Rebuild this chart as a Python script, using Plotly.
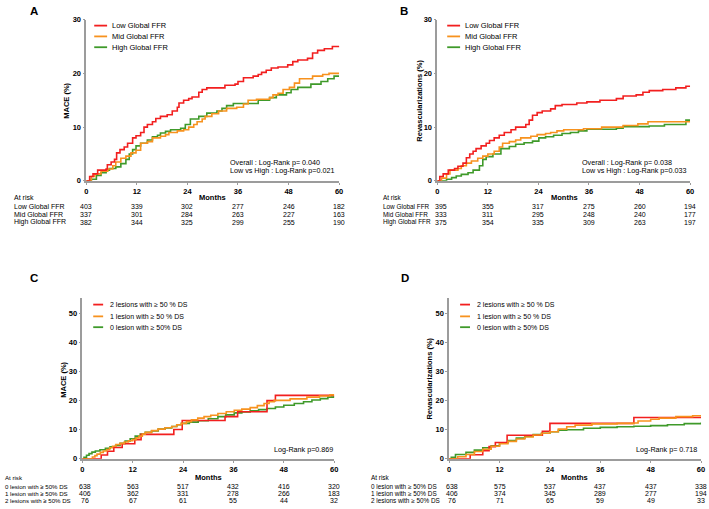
import plotly.graph_objects as go

# ---------------- data ----------------
months_ticks = [0, 12, 24, 36, 48, 60]

# Panel A : MACE by global FFR
A_low_t = [0, 0.8, 1.6, 2.7, 4.7, 5.0, 5.9, 6.7, 7.2, 8.0, 9.0, 9.8, 11.0, 11.8, 12.9, 13.7, 14.5, 15.7, 16.5, 17.6,
           19.2, 20.4, 21.6, 22.0, 23.1, 24.3, 25.1, 26.7, 27.5, 28.6, 32.9, 35.3, 36.0, 37.3, 39.6, 40.8, 41.6, 42.7,
           43.9, 45.5, 47.8, 49.0, 50.2, 52.5, 53.7, 54.9, 56.5, 58.4, 60]
A_low_v = [0, 0.8, 1.3, 2.0, 2.2, 3.0, 3.5, 4.0, 5.2, 5.8, 6.3, 7.0, 8.0, 8.4, 9.0, 10.0, 10.5, 11.0, 11.6, 12.0,
           12.3, 13.0, 13.7, 14.5, 15.0, 15.3, 15.6, 16.5, 17.0, 17.3, 17.8, 18.0, 18.5, 19.2, 19.5, 19.8, 20.2, 20.6,
           21.0, 21.2, 21.6, 22.2, 22.5, 22.8, 23.8, 24.3, 24.6, 25.0, 25.1]
A_mid_t = [0, 1.2, 2.0, 3.5, 5.1, 6.3, 7.0, 8.2, 9.4, 10.6, 11.8, 12.9, 14.5, 15.7, 17.6, 18.8, 19.6, 21.6, 23.1, 24.3,
           25.5, 26.3, 27.5, 28.2, 29.8, 31.4, 33.3, 35.7, 37.3, 38.4, 40.4, 43.5, 44.3, 45.5, 46.7, 48.2, 49.4, 50.6,
           53.7, 56.1, 57.6, 60]
A_mid_v = [0, 0.8, 1.3, 1.8, 2.2, 2.8, 3.5, 4.2, 4.6, 5.2, 5.7, 7.0, 7.3, 8.0, 8.3, 8.6, 9.0, 9.3, 9.5, 10.0,
           10.5, 11.0, 11.5, 12.0, 12.5, 13.0, 13.5, 13.7, 14.3, 15.0, 15.2, 15.5, 16.0, 16.3, 17.0, 17.4, 18.2, 19.0,
           19.5, 19.8, 20.0, 20.0]
A_high_t = [0, 1.2, 2.4, 3.5, 4.7, 5.5, 7.0, 8.2, 9.4, 10.2, 11.0, 11.8, 12.9, 14.5, 15.7, 16.9, 17.6, 18.8, 20.0, 22.4,
            23.5, 24.7, 26.7, 28.6, 31.0, 32.2, 33.3, 34.9, 40.8, 43.5, 45.1, 47.5, 48.6, 50.2, 53.3, 55.7, 57.3, 58.8, 60]
A_high_v = [0, 0.3, 1.0, 1.5, 2.0, 2.3, 2.6, 3.2, 4.0, 5.0, 5.8, 6.5, 7.0, 7.6, 8.2, 8.5, 8.9, 9.2, 9.5, 9.8,
            10.5, 11.5, 12.0, 12.6, 13.0, 13.5, 14.0, 14.4, 15.0, 15.5, 16.0, 16.4, 17.0, 17.4, 18.0, 18.5, 19.0, 19.5, 19.5]

# Panel B : revascularizations by global FFR
B_low_t = [0, 0.6, 1.4, 2.6, 4.1, 4.9, 6.1, 6.9, 7.7, 8.5, 9.2, 10.4, 11.6, 12.4, 13.5, 14.7, 15.9, 17.5, 18.6, 21.0,
           21.8, 22.6, 23.7, 24.9, 26.9, 28.0, 29.6, 33.1, 35.5, 38.6, 42.5, 44.1, 47.2, 48.8, 50.3, 53.5, 56.6, 59.0, 60]
B_low_v = [0, 0.8, 1.3, 2.0, 2.3, 2.7, 3.3, 4.3, 5.0, 5.5, 6.0, 6.5, 7.0, 7.5, 8.0, 8.5, 9.0, 9.5, 10.0, 10.5,
           11.3, 12.2, 12.7, 13.0, 13.4, 14.0, 14.2, 14.5, 14.7, 15.0, 15.3, 15.8, 16.0, 16.5, 16.8, 17.0, 17.3, 17.6, 17.6]
B_mid_t = [0, 1.0, 2.2, 3.0, 4.9, 5.7, 6.9, 8.1, 9.6, 10.8, 12.0, 13.5, 14.7, 15.5, 17.1, 18.6, 19.8, 22.2, 23.7, 25.7,
           26.9, 28.4, 30.0, 34.7, 39.0, 44.1, 47.6, 50.0, 60]
B_mid_v = [0, 0.5, 1.3, 2.0, 2.3, 2.8, 3.3, 3.7, 4.2, 4.6, 5.0, 5.5, 6.3, 7.0, 7.3, 7.6, 8.0, 8.3, 8.6, 8.8,
           9.0, 9.3, 9.5, 9.7, 10.0, 10.3, 10.6, 11.0, 11.0]
B_high_t = [0, 2.2, 3.4, 4.5, 5.7, 7.3, 8.5, 10.0, 10.8, 11.6, 13.2, 15.1, 17.1, 18.6, 20.6, 22.6, 24.1, 25.7, 27.6, 29.6,
            31.6, 33.5, 35.5, 42.5, 44.1, 50.3, 53.9, 59.0, 60]
B_high_v = [0, 0.3, 0.6, 0.9, 1.2, 1.5, 2.0, 2.8, 4.0, 4.5, 5.0, 6.0, 6.4, 6.8, 7.1, 7.4, 8.0, 8.2, 8.5, 8.8,
            9.0, 9.3, 9.6, 9.8, 10.1, 10.2, 10.5, 11.3, 11.3]

# Panel C : MACE by number of lesions with >= 50% DS
C_two_t = [0, 4.5, 6.0, 7.5, 9.5, 12.5, 14.0, 21.8, 23.8, 34.0, 37.0, 44.0, 46.0, 60]
C_two_v = [0, 1.3, 2.6, 3.9, 5.2, 6.6, 8.4, 10.1, 13.2, 14.5, 16.2, 20.0, 21.8, 21.8]
C_one_t = [0, 2.4, 3.0, 3.5, 4.3, 5.0, 5.8, 6.5, 7.2, 8.0, 9.0, 10.0, 11.0, 12.0, 12.8, 13.5, 14.3, 15.0, 16.5, 18.0,
           19.7, 21.3, 22.5, 23.6, 24.8, 26.0, 27.5, 29.0, 30.6, 32.3, 34.3, 36.2, 38.0, 40.0, 41.7, 43.3, 44.5, 45.7,
           49.5, 53.5, 56.5, 59.0, 60]
C_one_v = [0, 0.6, 1.1, 1.6, 2.2, 2.7, 3.2, 3.8, 4.3, 4.9, 5.3, 5.8, 6.2, 6.6, 7.2, 7.8, 8.5, 9.1, 9.7, 10.2,
           10.7, 11.1, 11.7, 12.2, 12.8, 13.4, 14.0, 14.5, 15.0, 15.6, 16.2, 16.7, 17.1, 17.6, 18.3, 19.0, 19.6, 20.1,
           20.6, 21.2, 21.6, 22.0, 22.1]
C_zero_t = [0, 0.4, 1.0, 1.6, 2.3, 3.1, 4.2, 5.5, 6.6, 7.9, 9.0, 10.2, 11.4, 12.6, 13.8, 15.0, 16.5, 18.1, 19.7, 21.3,
            22.5, 23.6, 25.5, 27.6, 30.0, 32.3, 34.2, 36.2, 38.0, 40.0, 42.0, 44.0, 46.0, 48.0, 50.5, 52.7, 54.7, 56.7,
            58.5, 60]
C_zero_v = [0, 0.5, 1.2, 1.8, 2.3, 2.7, 3.1, 3.6, 4.1, 4.6, 5.3, 6.1, 6.9, 7.8, 8.5, 9.1, 9.6, 10.2, 10.6, 11.1,
            11.7, 12.2, 12.6, 13.1, 13.8, 14.5, 15.1, 15.8, 16.1, 16.5, 16.9, 17.3, 17.8, 18.4, 19.0, 19.6, 20.2, 20.7,
            21.2, 21.6]

# Panel D : revascularizations by number of lesions with >= 50% DS
D_two_t = [0, 5.0, 8.0, 9.5, 11.0, 13.8, 22.2, 24.0, 44.0, 60]
D_two_v = [0, 1.4, 2.8, 4.2, 5.6, 8.1, 9.5, 12.2, 14.2, 14.2]
D_one_t = [0, 2.0, 4.0, 6.0, 8.0, 10.0, 12.0, 14.0, 16.0, 18.0, 20.0, 22.0, 24.0, 26.0, 28.0, 30.0, 34.0, 40.0, 44.0,
           45.0, 48.0, 50.0, 54.0, 58.0, 60]
D_one_v = [0, 0.7, 1.5, 2.5, 3.3, 4.3, 5.2, 6.0, 6.8, 7.5, 8.2, 8.8, 9.3, 10.2, 11.0, 11.6, 12.0, 12.2, 12.3,
           13.0, 13.6, 14.0, 14.5, 14.8, 15.0]
D_zero_t = [0, 0.5, 1.5, 4.0, 6.0, 8.0, 10.0, 12.0, 14.0, 16.0, 18.0, 20.0, 22.0, 24.0, 26.0, 28.0, 32.0, 36.0, 40.0,
            44.0, 48.0, 52.0, 56.0, 60]
D_zero_v = [0, 0.5, 1.5, 2.2, 3.0, 3.8, 4.5, 5.5, 6.3, 7.1, 7.8, 8.3, 8.8, 9.3, 9.8, 10.0, 10.5, 10.8, 11.0,
            11.2, 11.4, 11.7, 12.1, 12.5]

# legends / labels
ffr_groups = ["Low Global FFR", "Mid Global FFR", "High Global FFR"]
lesion_legend = ["2 lesions with \u2265 50 % DS", "1 lesion with \u2265 50 % DS", "0 lesion with \u2265 50% DS"]
lesion_rows = ["0 lesion with \u2265 50% DS", "1 lesion with \u2265 50% DS", "2 lesions with \u2265 50% DS"]

# numbers at risk
A_risk = [[403, 339, 302, 277, 246, 182], [337, 301, 284, 263, 227, 163], [382, 344, 325, 299, 255, 190]]
B_risk = [[395, 355, 317, 275, 260, 194], [333, 311, 295, 248, 240, 177], [375, 354, 335, 309, 263, 197]]
C_risk = [[638, 563, 517, 432, 416, 320], [406, 362, 331, 278, 266, 183], [76, 67, 61, 55, 44, 32]]
D_risk = [[638, 575, 537, 437, 437, 338], [406, 374, 345, 289, 277, 194], [76, 71, 65, 59, 49, 33]]

# ---------------- style ----------------
W, H = 709, 509
FONT = "Arial, Liberation Sans, sans-serif"
RED, ORANGE, GREEN = "#f21f1f", "#f7921e", "#3f9a2a"
AXC = "#9c9c9c"


def X(px):
    return px / W


def Y(py):
    return 1 - py / H


fig = go.Figure()


def add_curve(t, v, color, ax):
    fig.add_trace(go.Scatter(x=t, y=v, mode="lines", line=dict(shape="hv", color=color, width=1.6),
                             xaxis="x" + ax, yaxis="y" + ax, showlegend=False, hoverinfo="skip",
                             cliponaxis=False))


add_curve(A_high_t, A_high_v, GREEN, "")
add_curve(A_mid_t, A_mid_v, ORANGE, "")
add_curve(A_low_t, A_low_v, RED, "")
add_curve(B_high_t, B_high_v, GREEN, "2")
add_curve(B_mid_t, B_mid_v, ORANGE, "2")
add_curve(B_low_t, B_low_v, RED, "2")
add_curve(C_zero_t, C_zero_v, GREEN, "3")
add_curve(C_two_t, C_two_v, RED, "3")
add_curve(C_one_t, C_one_v, ORANGE, "3")
add_curve(D_zero_t, D_zero_v, GREEN, "4")
add_curve(D_two_t, D_two_v, RED, "4")
add_curve(D_one_t, D_one_v, ORANGE, "4")

tickfont = dict(family=FONT, size=7.5, color="black", weight="bold")


def xax(dom, anchor):
    return dict(domain=dom, anchor=anchor, range=[0, 60], tickvals=months_ticks, showgrid=False, zeroline=False,
                showline=True, linecolor=AXC, linewidth=1.5, ticks="outside", ticklen=2, tickcolor=AXC,
                tickfont=tickfont, fixedrange=True)


def yax(dom, anchor, rng, tv):
    return dict(domain=dom, anchor=anchor, range=rng, tickvals=tv, showgrid=False, zeroline=False,
                showline=True, linecolor=AXC, linewidth=1.5, ticks="outside", ticklen=2, tickcolor=AXC,
                tickfont=tickfont, fixedrange=True)


top_dom = [Y(180), Y(16)]
bot_dom = [Y(463), Y(299)]

fig.update_layout(
    width=W, height=H, margin=dict(l=0, r=0, t=0, b=0),
    paper_bgcolor="white", plot_bgcolor="white",
    font=dict(family=FONT, color="black"),
    xaxis=xax([X(85), X(340)], "y"), yaxis=yax(top_dom, "x", [0, 30], [0, 10, 20, 30]),
    xaxis2=xax([X(439), X(694)], "y2"), yaxis2=yax(top_dom, "x2", [0, 30], [0, 10, 20, 30]),
    xaxis3=xax([X(81), X(335)], "y3"), yaxis3=yax(bot_dom, "x3", [0, 55.4], [0, 10, 20, 30, 40, 50]),
    xaxis4=xax([X(451), X(705)], "y4"), yaxis4=yax(bot_dom, "x4", [0, 55.4], [0, 10, 20, 30, 40, 50]),
)

ann = []
shapes = []


def txt(x, y, s, size=7.5, bold=False, xanchor="left", xref="paper", angle=0, xshift=0):
    ann.append(dict(x=x, y=Y(y), xref=xref, yref="paper", text=s, showarrow=False, xanchor=xanchor,
                    yanchor="middle", textangle=angle, xshift=xshift,
                    font=dict(family=FONT, size=size, color="black", weight="bold" if bold else "normal")))


# panel letters
txt(X(32), 7, "A", 11.5, True, "center")
txt(X(405), 7, "B", 11.5, True, "center")
txt(X(32), 279, "C", 11.5, True, "center")
txt(X(406), 279, "D", 11.5, True, "center")

# y-axis titles
txt(X(65), 98, "MACE (%)", 7.5, True, "center", angle=-90)
txt(X(421), 98, "Revascularizations (%)", 7.5, True, "center", angle=-90)
txt(X(62), 382, "MACE (%)", 7.5, True, "center", angle=-90)
txt(X(431), 381, "Revascularizations (%)", 7.5, True, "center", angle=-90)

# legends
colors = [RED, ORANGE, GREEN]


def legend(x0, x1, xt, ys, labels, size):
    for c, yy, lab in zip(colors, ys, labels):
        shapes.append(dict(type="line", xref="paper", yref="paper", x0=X(x0), x1=X(x1), y0=Y(yy), y1=Y(yy),
                           line=dict(color=c, width=1.8)))
        txt(X(xt), yy, lab, size)


legend(93, 106, 109, [22, 33, 44], ffr_groups, 7.5)
legend(449, 462, 465, [22, 33, 44], ffr_groups, 7.5)
legend(92, 102, 107, [306, 318, 329], lesion_legend, 7)
legend(462, 472, 477, [306, 318, 329], lesion_legend, 7)

# log-rank
txt(X(228), 161, "Overall : Log-Rank p= 0.040", 7.2)
txt(X(228), 170, "Low vs High : Log-Rank p=0.021", 7.2)
txt(X(583), 161, "Overall : Log-Rank p= 0.038", 7.2)
txt(X(583), 170, "Low vs High : Log-Rank p=0.033", 7.2)
txt(X(336), 454, "Log-Rank p=0.869", 7.2, xanchor="right")
txt(X(703), 454, "Log-Rank p= 0.718", 7.2, xanchor="right")


# at risk tables
def table(xlab, xmonths, ytitle, rows_y, labels, risk, xref, labsize, shift0):
    txt(X(xlab), ytitle, "At risk", labsize)
    txt(X(xmonths), ytitle, "Months", 7.5, True, "center")
    for lab, yy, vals in zip(labels, rows_y, risk):
        txt(X(xlab), yy, lab, labsize)
        for m, v in zip(months_ticks, vals):
            txt(m, yy, str(v), 7, xanchor="center", xref=xref, xshift=shift0 if m == 0 else 0)


table(10, 212, 197, [206, 214, 222], ffr_groups, A_risk, "x", 7, 0)
table(382, 567, 197, [206, 214, 222], ffr_groups, B_risk, "x2", 6.4, 4)
table(1, 208, 482, [491, 498, 505], lesion_rows, C_risk, "x3", 6.1, 3)
table(370, 577, 482, [491, 498, 505], lesion_rows, D_risk, "x4", 6.4, 3)

fig.update_layout(annotations=ann, shapes=shapes)
fig.write_html("out.html", config={"displayModeBar": False},
               post_script="document.body.style.margin='0px';document.body.style.overflow='hidden';")
